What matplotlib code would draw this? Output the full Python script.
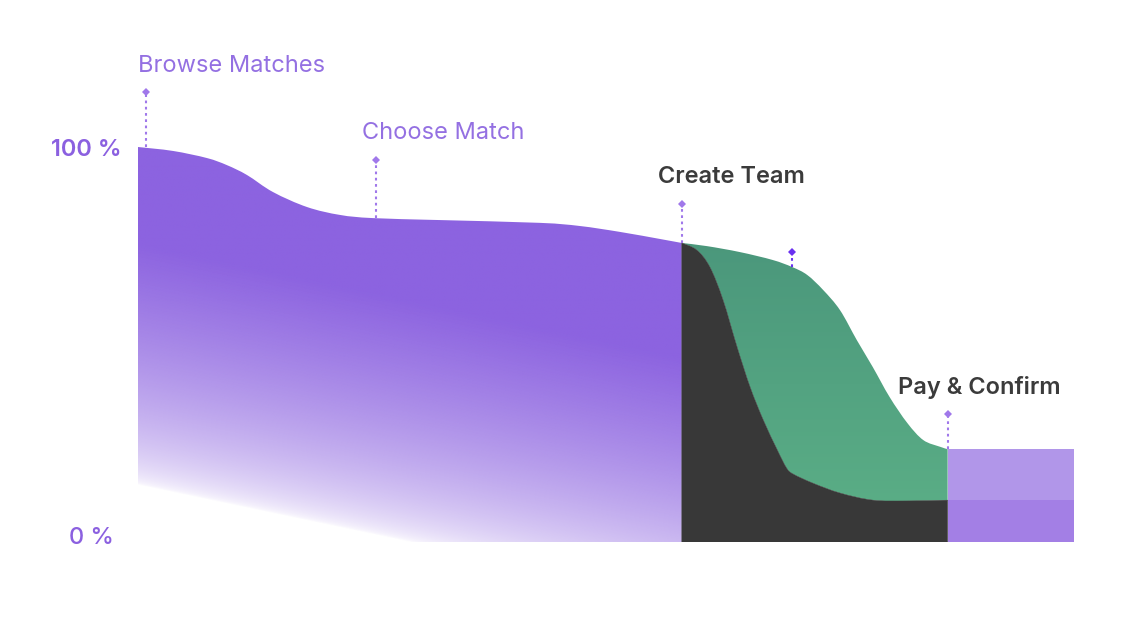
import numpy as np
import matplotlib
matplotlib.use("Agg")
import matplotlib.pyplot as plt
from matplotlib.patches import PathPatch
from matplotlib.path import Path
from matplotlib.colors import to_rgb

plt.rcParams['font.family'] = ['Inter', 'DejaVu Sans']

# ---- data (x = progress units 0..100, y = percent of users) ----
browse_x = [0, 3.74, 7.37, 9.51, 11.65, 14.42, 18.06, 21.58, 25.1, 32.3, 42.9, 47.2, 51.5, 55.8, 58.1]
browse_y = [100, 99.0, 97.2, 95.4, 92.9, 88.6, 84.8, 82.8, 82.0, 81.5, 80.8, 80.0, 78.5, 76.7, 75.7]

team_x = [58.1, 60.8, 64.3, 67.8, 69.9, 71.5, 73.2, 75.0, 76.8, 78.5, 80.3, 82.2, 83.9, 85.7, 86.5]
team_y = [75.7, 74.9, 73.4, 71.4, 69.6, 67.6, 63.8, 58.7, 51.1, 44.3, 36.7, 30.1, 25.8, 24.1, 23.5]

drop_x = [58.1, 59.7, 61.1, 62.5, 64.0, 65.4, 66.8, 68.3, 69.3, 70.0, 72.1, 75.0, 78.5, 82.2, 86.5]
drop_y = [75.7, 73.9, 69.6, 61.3, 49.4, 39.2, 30.9, 23.3, 18.7, 17.2, 14.9, 12.4, 10.6, 10.4, 10.6]

pay_x = [86.5, 100]
pay_top = 23.5
pay_done = 10.6

stages = ["Browse Matches", "Choose Match", "Create Team", "", "Pay & Confirm"]
stage_x = [0.85, 25.4, 58.1, 69.9, 86.5]
stage_pin = [113.9, 96.7, 85.6, 73.4, 32.4]
stage_base = [100, 82.0, 75.7, 69.6, 23.5]
label_x = [0, 23.9, 55.6, None, 81.2]
label_y = [120.5, 103.6, 92.4, None, 39.2]

yticks = [100, 0]
ytick_labels = ["100 %", "0 %"]
ytick_x = [-1.7, -2.6]
ytick_y = [99.2, 1.0]

PURPLE = "#8c63e0"
GREEN_TOP = "#4a967b"
GREEN_BOT = "#5cb087"
DARK = "#383838"
PIN = "#a078ea"

W, H = 1136, 620
fig = plt.figure(figsize=(W / 100, H / 100), dpi=100)
ax = fig.add_axes([138 / W, (H - 542) / H, 936 / W, 395 / H])
ax.set_xlim(0, 100)
ax.set_ylim(0, 100)
ax.axis('off')

pxx = 9.36   # px per x unit
pxy = 3.95   # px per y unit


def smooth_segments(xs, ys):
    """Catmull-Rom through the points, expressed as cubic Bezier path pieces."""
    P = np.column_stack([xs, ys]).astype(float)
    n = len(P)
    verts, codes = [], []
    for i in range(n - 1):
        p0 = P[max(i - 1, 0)]
        p1 = P[i]
        p2 = P[i + 1]
        p3 = P[min(i + 2, n - 1)]
        c1 = p1 + (p2 - p0) / 6.0
        c2 = p2 - (p3 - p1) / 6.0
        verts += [tuple(c1), tuple(c2), tuple(p2)]
        codes += [Path.CURVE4] * 3
    return verts, codes


def area_path(top_x, top_y, bot_x=None, bot_y=None):
    v, c = [(top_x[0], top_y[0])], [Path.MOVETO]
    sv, sc = smooth_segments(top_x, top_y)
    v += sv
    c += sc
    if bot_x is None:
        v += [(top_x[-1], 0), (top_x[0], 0)]
        c += [Path.LINETO, Path.LINETO]
    else:
        v.append((bot_x[-1], bot_y[-1]))
        c.append(Path.LINETO)
        sv, sc = smooth_segments(bot_x[::-1], bot_y[::-1])
        v += sv
        c += sc
    v.append((0, 0))
    c.append(Path.CLOSEPOLY)
    return Path(v, c)


# ---- purple gradient area ----
patch_b = PathPatch(area_path(browse_x, browse_y), facecolor='none', edgecolor='none')
ax.add_patch(patch_b)
gx = np.linspace(0, browse_x[-1], 500)
gy = np.linspace(0, 101, 500)
GX, GY = np.meshgrid(gx, gy)
t = GY * pxy + 0.21 * GX * pxx
alpha = np.clip((t - 57) / 240, 0, 1) ** 0.55
img = np.zeros((500, 500, 4))
img[..., :3] = to_rgb(PURPLE)
img[..., 3] = alpha
im = ax.imshow(img, extent=(0, browse_x[-1], 0, 101), origin='lower',
               aspect='auto', interpolation='bilinear', zorder=1)
im.set_clip_path(patch_b)

# ---- green area (still in the funnel after team creation) ----
patch_g = PathPatch(area_path(team_x, team_y, drop_x, drop_y),
                    facecolor='none', edgecolor='none')
ax.add_patch(patch_g)
c1, c2 = np.array(to_rgb(GREEN_TOP)), np.array(to_rgb(GREEN_BOT))
fr = np.linspace(0, 1, 300)[:, None]
gimg = np.zeros((300, 2, 3))
gimg[:, :, :] = (c2 * (1 - fr) + c1 * fr)[:, None, :]
gim = ax.imshow(gimg, extent=(team_x[0], team_x[-1], 0, 80), origin='lower',
                aspect='auto', interpolation='bilinear', zorder=2)
gim.set_clip_path(patch_g)

# ---- dark drop-off area ----
ax.add_patch(PathPatch(area_path(drop_x, drop_y), facecolor=DARK,
                       edgecolor=DARK, linewidth=0.3, zorder=3))

# ---- final block ----
ax.fill_between(pay_x, pay_done, pay_top, color="#b196e9", linewidth=0, zorder=3)
ax.fill_between(pay_x, 0, pay_done, color="#a37fe5", linewidth=0, zorder=3)

# ---- pins and labels ----
for i, name in enumerate(stages):
    col = PIN if name else "#6a30f0"
    ax.plot([stage_x[i], stage_x[i]], [stage_base[i], stage_pin[i]],
            linestyle=(0, (1.3, 1.7)), color=col, linewidth=1.5,
            clip_on=False, zorder=4)
    ax.plot(stage_x[i], stage_pin[i], marker='D', markersize=4.5, color=col,
            markeredgewidth=0, clip_on=False, zorder=5)
    if name:
        dark = i >= 2
        ax.text(label_x[i], label_y[i], name, ha='left', va='center',
                fontsize=17, color="#3b3b3b" if dark else "#9470e2",
                fontweight='semibold' if dark else 'normal', clip_on=False)

for xx, yy, lab, wt in zip(ytick_x, ytick_y, ytick_labels, ['semibold', 'medium']):
    ax.text(xx, yy, lab, ha='right', va='center', fontsize=17,
            color="#8b60e0", fontweight=wt, clip_on=False)

fig.savefig("out.png", dpi=100, facecolor='white')
